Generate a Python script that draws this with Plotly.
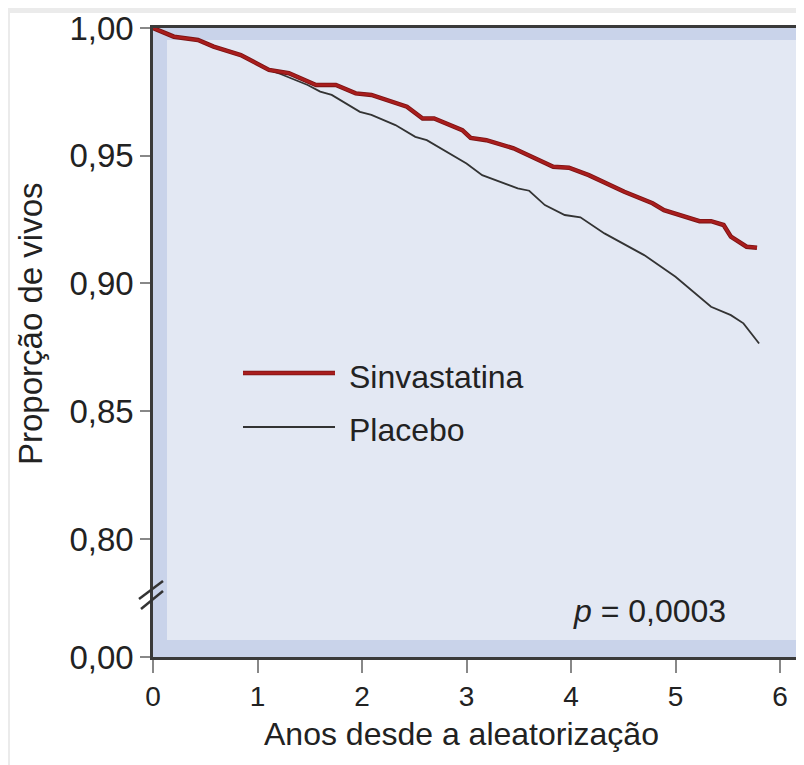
import plotly.graph_objects as go

# ---- data ----
sinva_t = [0.0, 0.20, 0.43, 0.58, 0.84, 1.11, 1.30, 1.56, 1.75, 1.94, 2.09, 2.43, 2.58, 2.69,
           2.96, 3.04, 3.19, 3.45, 3.83, 3.98, 4.17, 4.51, 4.78, 4.89, 5.23, 5.34, 5.46,
           5.53, 5.68, 5.78]
sinva_v = [1.000, 0.9966, 0.9953, 0.9927, 0.9894, 0.9836, 0.9823, 0.9777, 0.9777, 0.9744,
           0.9738, 0.9692, 0.9646, 0.9646, 0.9600, 0.9570, 0.9561, 0.9529, 0.9457, 0.9453,
           0.9424, 0.9359, 0.9314, 0.9287, 0.9244, 0.9244, 0.9229, 0.9183, 0.9144, 0.9140]

placebo_t = [0.0, 0.20, 0.43, 0.58, 0.84, 1.11, 1.22, 1.48, 1.60, 1.71, 1.98, 2.09, 2.32,
             2.51, 2.62, 3.00, 3.15, 3.49, 3.60, 3.75, 3.94, 4.09, 4.32, 4.55, 4.70, 5.00,
             5.34, 5.53, 5.65, 5.80]
placebo_v = [1.000, 0.9966, 0.9953, 0.9927, 0.9894, 0.9836, 0.9820, 0.9777, 0.9751, 0.9738,
             0.9672, 0.9660, 0.9620, 0.9574, 0.9561, 0.9470, 0.9424, 0.9372, 0.9363, 0.9307,
             0.9268, 0.9259, 0.9196, 0.9144, 0.9111, 0.9026, 0.8909, 0.8876, 0.8844, 0.8765]

series_names = ["Sinvastatina", "Placebo"]
x_tick_vals = [0, 1, 2, 3, 4, 5, 6]
x_tick_labels = ["0", "1", "2", "3", "4", "5", "6"]
y_break_pos = 0.7538  # axis position standing for 0,00 after the break
y_tick_vals = [y_break_pos, 0.80, 0.85, 0.90, 0.95, 1.00]
y_tick_labels = ["0,00", "0,80", "0,85", "0,90", "0,95", "1,00"]
x_title = "Anos desde a aleatorização"
y_title = "Proporção de vivos"
p_text = "<i>p</i> = 0,0003"

RED = "#a81d1d"
RED_EDGE = "#7a1313"
GRAY = "#333333"
FONT = "Liberation Sans, Arial, sans-serif"

fig = go.Figure()
fig.add_trace(go.Scatter(x=placebo_t, y=placebo_v, mode="lines",
                         line=dict(color=GRAY, width=1.8), name=series_names[1],
                         showlegend=False))
fig.add_trace(go.Scatter(x=sinva_t, y=sinva_v, mode="lines",
                         line=dict(color=RED_EDGE, width=4.5), showlegend=False,
                         hoverinfo="skip"))
fig.add_trace(go.Scatter(x=sinva_t, y=sinva_v, mode="lines",
                         line=dict(color=RED, width=2.8), name=series_names[0],
                         showlegend=False))

# page body has an 8px margin: figure origin sits at reference pixel (8, 8)
OFF = 8
W, H = 804 - OFF, 765 - OFF
PL, PR, PT, PB = 153, 804, 28, 657          # plot area in reference pixels
L, R, T, B = PL - OFF, 0, PT - OFF, H - (PB - OFF)
pw, ph = W - L - R, H - T - B


def px(x):  # reference pixel -> paper x
    return (x - PL) / pw


def py(y):  # reference pixel -> paper y
    return (PB - y) / ph


shapes = [
    # page frame strips
    dict(type="rect", xref="paper", yref="paper", x0=px(0), x1=px(810), y0=py(0), y1=py(13),
         fillcolor="#ebebeb", line_width=0, layer="below"),
    dict(type="rect", xref="paper", yref="paper", x0=px(0), x1=px(10), y0=py(0), y1=py(770),
         fillcolor="#ebebeb", line_width=0, layer="below"),
    # inner lighter panel
    dict(type="rect", xref="paper", yref="paper", x0=px(167), x1=px(798), y0=py(640), y1=py(40),
         fillcolor="#e3e8f3", line_width=0, layer="below"),
    # axis break marks
    dict(type="line", xref="paper", yref="paper", x0=px(139), y0=py(599), x1=px(163), y1=py(581),
         line=dict(color="#333333", width=2.5)),
    dict(type="line", xref="paper", yref="paper", x0=px(141), y0=py(609), x1=px(163), y1=py(591),
         line=dict(color="#333333", width=2.5)),
    # legend samples
    dict(type="line", xref="paper", yref="paper", x0=px(243), x1=px(335), y0=py(373), y1=py(373),
         line=dict(color=RED_EDGE, width=4.5)),
    dict(type="line", xref="paper", yref="paper", x0=px(243), x1=px(335), y0=py(373), y1=py(373),
         line=dict(color=RED, width=2.8)),
    dict(type="line", xref="paper", yref="paper", x0=px(243), x1=px(335), y0=py(427), y1=py(427),
         line=dict(color=GRAY, width=1.8)),
]

annotations = [
    dict(text=series_names[0], xref="paper", yref="paper", x=px(347), y=py(377),
         xanchor="left", yanchor="middle", showarrow=False, font=dict(size=32, color="#222")),
    dict(text=series_names[1], xref="paper", yref="paper", x=px(347), y=py(430),
         xanchor="left", yanchor="middle", showarrow=False, font=dict(size=32, color="#222")),
    dict(text=p_text, xref="paper", yref="paper", x=px(571), y=py(611),
         xanchor="left", yanchor="middle", showarrow=False, font=dict(size=32, color="#222")),
    dict(text=x_title, xref="paper", yref="paper", x=px(461), y=py(734),
         xanchor="center", yanchor="middle", showarrow=False, font=dict(size=32, color="#222")),
    dict(text=y_title, xref="paper", yref="paper", x=px(30), y=py(324),
         xanchor="center", yanchor="middle", textangle=-90, showarrow=False,
         font=dict(size=33, color="#222")),
]

fig.update_layout(
    width=W, height=H,
    margin=dict(l=L, r=R, t=T, b=B, pad=0),
    paper_bgcolor="white",
    plot_bgcolor="#c9d3ea",
    font=dict(family=FONT, color="#222", size=30),
    shapes=shapes,
    annotations=annotations,
    showlegend=False,
    xaxis=dict(range=[0, (PR - PL) / 104.5], tickvals=x_tick_vals, ticktext=x_tick_labels,
               showgrid=False, zeroline=False, showline=True, linecolor="#3a3a3a",
               linewidth=2.5, mirror=True, ticks="outside", ticklen=13, tickwidth=2,
               tickcolor="#888888", tickfont=dict(size=28, family=FONT, color="#222")),
    yaxis=dict(range=[y_break_pos, 1.0], tickvals=y_tick_vals, ticktext=y_tick_labels,
               showgrid=False, zeroline=False, showline=True, linecolor="#3a3a3a",
               linewidth=2.5, ticks="outside", ticklen=10, tickwidth=2,
               tickcolor="#888888", tickfont=dict(size=33, family=FONT, color="#222")),
)

fig.write_html("out.html")
